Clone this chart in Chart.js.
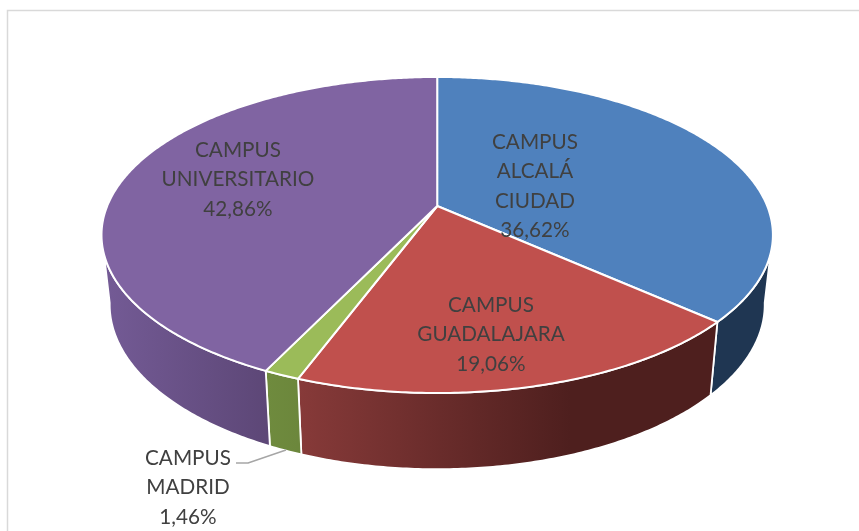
<!DOCTYPE html>
<html>
<head>
<meta charset="utf-8">
<title>Campus</title>
<script src="https://cdn.jsdelivr.net/npm/chart.js@4"></script>
<style>
  html, body { margin: 0; padding: 0; background: #fff; }
  canvas { display: block; }
</style>
</head>
<body>
<canvas id="pie" width="859" height="531"></canvas>
<script>
// data
var categories = [["CAMPUS", "ALCALÁ", "CIUDAD"], ["CAMPUS", "GUADALAJARA"], ["CAMPUS", "MADRID"], ["CAMPUS", "UNIVERSITARIO"]];
var seriesValues = [36.62, 19.06, 1.46, 42.86];

var topColors = ["#4f81bd", "#c0504d", "#9bbb59", "#8064a2"];
var wallColors = [["#1f3652", "#1f3652"], ["#873a39", "#4e1f1e"], ["#6f8b3e", "#6c873c"], ["#745b96", "#5d4777"]];
var wallStops = [1, 0.65, 1, 1];
var labelSpots = [[535, 142], [491, 305], [188, 458], [238, 150]];

// perspective of the pie: apex sits above the centre of the ellipse
var cx = 437.2, apexY = 206, persp = 0.1835, radX = 330, radY = 114.9;
var topMid = 235, topRx = 335.7, topRy = 158;
var botMid = 304.6, botRx = 327.5, botRy = 164.6;
var frontFrom = 10 * Math.PI / 180, frontTo = 170 * Math.PI / 180;

function topPoint(a) {
	var u = Math.cos(a), v = Math.sin(a), d = 1 - persp * v;
	return [cx + radX * u / d, (apexY + radY * v) / d];
}

function botPoint(a) {
	var p = topPoint(a);
	return [cx + botRx * (p[0] - cx) / topRx, botMid + botRy * (p[1] - topMid) / topRy];
}

function traceArc(ctx, fn, from, to, first) {
	var n = Math.max(2, Math.ceil(Math.abs(to - from) / 0.01));
	for (var i = 0; i <= n; i++) {
		var p = fn(from + (to - from) * i / n);
		if (i == 0 && first) ctx.moveTo(p[0], p[1]);
		else ctx.lineTo(p[0], p[1]);
	}
}

var pie3d = {
	id: 'pie3d',
	beforeDatasetsDraw: function(chart) {
		var ctx = chart.ctx;
		var arcs = chart.getDatasetMeta(0).data;
		ctx.save();

		// frame, the right side runs off the picture
		ctx.strokeStyle = "#d9d9d9";
		ctx.lineWidth = 1.5;
		ctx.beginPath();
		ctx.moveTo(7.5, 540);
		ctx.lineTo(7.5, 10.5);
		ctx.lineTo(870, 10.5);
		ctx.stroke();

		ctx.lineJoin = "round";
		ctx.strokeStyle = "#fff";

		// walls
		arcs.forEach(function(arc, i) {
			var from = Math.max(arc.startAngle, frontFrom);
			var to = Math.min(arc.endAngle, frontTo);
			if (to <= from) return;
			var x1 = topPoint(from)[0], x2 = topPoint(to)[0];
			var grad = ctx.createLinearGradient(x2, 0, x1, 0);
			grad.addColorStop(0, wallColors[i][0]);
			grad.addColorStop(wallStops[i], wallColors[i][1]);
			grad.addColorStop(1, wallColors[i][1]);
			ctx.beginPath();
			traceArc(ctx, topPoint, from, to, true);
			traceArc(ctx, botPoint, to, from, false);
			ctx.closePath();
			ctx.fillStyle = grad;
			ctx.fill();
			ctx.lineWidth = 1.8;
			ctx.stroke();
		});

		// top faces
		arcs.forEach(function(arc, i) {
			ctx.beginPath();
			ctx.moveTo(cx, apexY);
			traceArc(ctx, topPoint, arc.startAngle, arc.endAngle, false);
			ctx.closePath();
			ctx.fillStyle = topColors[i];
			ctx.fill();
			ctx.lineWidth = 2;
			ctx.stroke();
		});

		// leader of the small slice
		ctx.strokeStyle = "#a6a6a6";
		ctx.lineWidth = 1.4;
		ctx.beginPath();
		ctx.moveTo(236, 463);
		ctx.lineTo(248, 463);
		ctx.lineTo(286, 450);
		ctx.stroke();

		// labels
		ctx.fillStyle = "#404040";
		ctx.font = "20.7px Lato";
		ctx.textAlign = "center";
		ctx.textBaseline = "middle";
		arcs.forEach(function(arc, i) {
			var lines = categories[i].concat([seriesValues[i].toFixed(2).replace(".", ",") + "%"]);
			lines.forEach(function(line, j) {
				ctx.fillText(line, labelSpots[i][0], labelSpots[i][1] + j * 29.6);
			});
		});

		ctx.restore();
		return false;
	}
};

var ctx = document.getElementById("pie").getContext("2d");
var myPie = new Chart(ctx, {
	type: 'pie',
	data: {
		labels: categories.map(function(c) { return c.join(" "); }),
		datasets: [{ data: seriesValues, backgroundColor: topColors }]
	},
	options: {
		responsive: false,
		animation: false,
		plugins: { legend: { display: false }, tooltip: { enabled: false } }
	},
	plugins: [pie3d]
});
</script>
</body>
</html>
